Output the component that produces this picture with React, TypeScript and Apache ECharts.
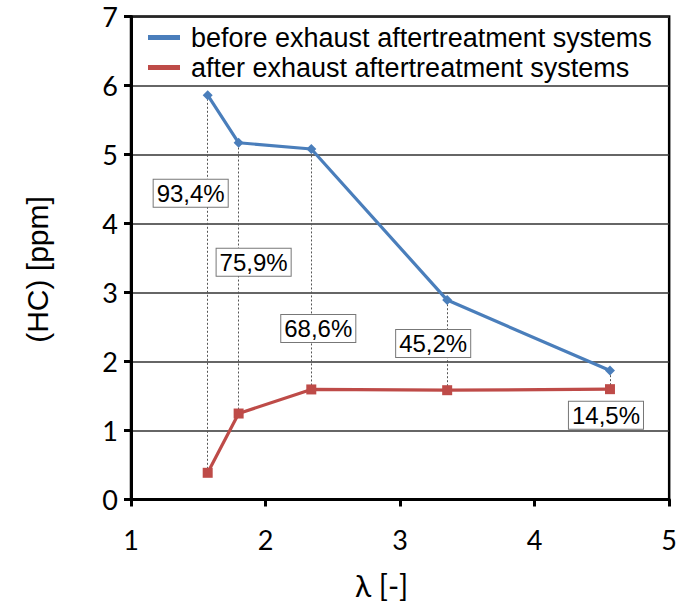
import React, { useEffect, useRef } from "react";
import * as echarts from "echarts";

// Air excess ratio λ at each measuring point
const lambda = [1.57, 1.8, 2.34, 3.35, 4.56];
// HC concentration upstream / downstream of the aftertreatment system [ppm]
const hcBefore = [5.86, 5.17, 5.08, 2.89, 1.87];
const hcAfter = [0.387, 1.246, 1.595, 1.584, 1.599];
// Conversion efficiency at each point
const reductionLabels = ["93,4%", "75,9%", "68,6%", "45,2%", "14,5%"];

const seriesNames = [
  "before exhaust aftertreatment systems",
  "after exhaust aftertreatment systems",
];

// Label placement (y level in ppm, horizontal shift in px)
const labelLevels = [4.44, 3.44, 2.48, 2.26, 1.22];
const labelShift = [-17, 15, 7, -14, -4];

const BLUE = "#4A7EBB";
const RED = "#BE4B48";

export default function App() {
  const ref = useRef<HTMLDivElement>(null);

  useEffect(() => {
    if (!ref.current) return;
    const chart = echarts.init(ref.current, null, { renderer: "svg" });

    const dropLines = lambda.map((x, i) => [
      { coord: [x, hcAfter[i]] },
      { coord: [x, hcBefore[i]] },
    ]);

    chart.setOption({
      animation: false,
      backgroundColor: "#fff",
      grid: {
        left: 131,
        right: 10,
        top: 16.5,
        bottom: 105.5,
        show: true,
        borderColor: "#000",
        borderWidth: 2.5,
        backgroundColor: "transparent",
      },
      legend: {
        data: seriesNames,
        orient: "vertical",
        left: 143,
        top: 19,
        itemWidth: 32,
        itemHeight: 5,
        itemGap: 3,
        icon: "rect",
        textStyle: {
          fontFamily: "Liberation Sans",
          fontSize: 27,
          lineHeight: 26,
          color: "#000",
          padding: [0, 0, 0, 6],
        },
      },
      xAxis: {
        type: "value",
        min: 1,
        max: 5,
        interval: 1,
        name: "λ [-]",
        nameLocation: "middle",
        nameGap: 70,
        nameTextStyle: {
          fontFamily: "Lato",
          fontSize: 30,
          color: "#000",
          padding: [0, 37, 0, 0],
        },
        axisLine: { show: true, lineStyle: { color: "#000", width: 3 } },
        axisTick: { show: true, length: 7, lineStyle: { color: "#000", width: 3 } },
        axisLabel: {
          fontFamily: "Lato",
          fontSize: 27,
          color: "#000",
          margin: 26,
        },
        splitLine: { show: false },
      },
      yAxis: {
        type: "value",
        min: 0,
        max: 7,
        interval: 1,
        name: "(HC) [ppm]",
        nameLocation: "middle",
        nameGap: 79,
        nameTextStyle: {
          fontFamily: "Liberation Sans",
          fontSize: 30,
          color: "#000",
          padding: [0, 23, 0, 0],
        },
        axisLine: { show: true, lineStyle: { color: "#000", width: 3 } },
        axisTick: { show: true, length: 7, lineStyle: { color: "#000", width: 3 } },
        axisLabel: {
          fontFamily: "Lato",
          fontSize: 27,
          color: "#000",
          margin: 13,
        },
        splitLine: { show: true, lineStyle: { color: "#333", width: 1.6 } },
      },
      series: [
        {
          name: seriesNames[0],
          type: "line",
          z: 3,
          data: lambda.map((x, i) => [x, hcBefore[i]]),
          symbol: "diamond",
          symbolSize: 10,
          lineStyle: { color: BLUE, width: 3.2 },
          itemStyle: { color: BLUE },
        },
        {
          name: seriesNames[1],
          type: "line",
          z: 3,
          data: lambda.map((x, i) => [x, hcAfter[i]]),
          symbol: "rect",
          symbolSize: 10,
          lineStyle: { color: RED, width: 3.2 },
          itemStyle: { color: RED },
          markLine: {
            silent: true,
            z: 1,
            symbol: ["none", "none"],
            label: { show: false },
            lineStyle: { color: "#555", width: 1, type: [2, 2] },
            data: dropLines,
          },
        },
        {
          name: "reduction",
          type: "scatter",
          z: 6,
          silent: true,
          symbolSize: 1,
          itemStyle: { color: "rgba(0,0,0,0)" },
          data: lambda.map((x, i) => ({
            name: reductionLabels[i],
            value: [x, labelLevels[i]],
            label: { offset: [labelShift[i], 0] },
          })),
          label: {
            show: true,
            position: "inside",
            formatter: "{b}",
            fontFamily: "Liberation Sans",
            fontSize: 24,
            lineHeight: 24,
            color: "#000",
            textBorderWidth: 0,
            opacity: 1,
            backgroundColor: "#fff",
            borderColor: "#777",
            borderWidth: 1,
            padding: [2, 3, 1, 3],
          },
        },
      ],
    });

    return () => chart.dispose();
  }, []);

  return (
    <div
      ref={ref}
      style={{ position: "fixed", left: 0, top: 0, width: 680, height: 605 }}
    />
  );
}
